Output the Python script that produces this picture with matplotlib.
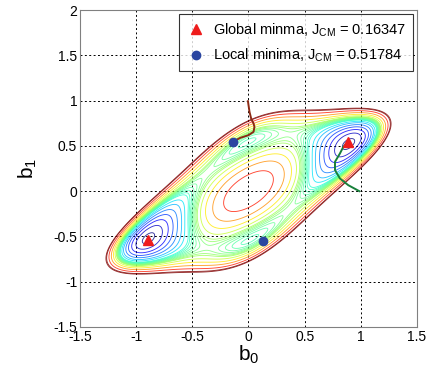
import numpy as np
import matplotlib
matplotlib.use("Agg")
import matplotlib.pyplot as plt
from matplotlib.colors import Normalize

plt.rcParams['font.family'] = ['Liberation Sans', 'DejaVu Sans']

# channel / noise used for the CM cost surface
ar_coef = 0.6
noise_var = 0.0387

# marked minima
global_b0 = [0.885, -0.895]
global_b1 = [0.545, -0.54]
local_b0 = [-0.14, 0.125]
local_b1 = [0.548, -0.545]
global_label = r"Global minma, J$_{\mathregular{CM}}$ = 0.16347"
local_label = r"Local minima, J$_{\mathregular{CM}}$ = 0.51784"

# adaptation trajectories
traj_local_b0 = [-0.005, 0.009, 0.024, 0.045, 0.053, 0.045, 0.0, -0.074, -0.142]
traj_local_b1 = [0.993, 0.875, 0.80, 0.747, 0.71, 0.655, 0.618, 0.588, 0.544]
traj_global_b0 = [0.986, 0.888, 0.814, 0.77, 0.77, 0.814, 0.844, 0.883]
traj_global_b1 = [0.0, 0.066, 0.14, 0.232, 0.324, 0.416, 0.489, 0.544]

ticks = [-1.5, -1, -0.5, 0, 0.5, 1, 1.5]
yticks = [-1.5, -1, -0.5, 0, 0.5, 1, 1.5, 2]
# contour levels: coarse in the wells, fine on the plateau
levels = [0.175, 0.22, 0.27, 0.32, 0.37, 0.42, 0.46,
          0.50, 0.515, 0.53, 0.545, 0.56, 0.575, 0.59, 0.605, 0.62,
          0.66, 0.72, 0.80, 0.90, 1.005, 1.04]

# CM cost over the equalizer plane
b0, b1 = np.meshgrid(np.linspace(-1.5, 1.5, 601), np.linspace(-1.5, 2, 701))
d = b1 - ar_coef * b0
P = b0**2 + d**2 / (1 - ar_coef**2)
Q = b0**4 + d**4 / (1 - ar_coef**4)
E = P + noise_var * (b0**2 + b1**2)
J = 3 * E**2 - 2 * Q - 2 * E + 1

fig = plt.figure(figsize=(4.27, 3.74), dpi=100)
ax = fig.add_axes([80 / 427, 1 - 327 / 374, 337 / 427, 317 / 374])

ax.contour(b0, b1, J, levels=levels, cmap='jet', norm=Normalize(0.17, 1.0),
           linewidths=0.65, alpha=0.8)
ax.plot(traj_local_b0, traj_local_b1, color='#8c2a14', lw=1.4)
ax.plot(traj_global_b0, traj_global_b1, color='#17803a', lw=1.4)
ax.plot(global_b0, global_b1, '^', color='#ee1c1c', ms=7, ls='none', label=global_label)
ax.plot(local_b0, local_b1, 'o', color='#2a45a0', ms=6, ls='none', label=local_label)

ax.set_xlim(-1.5, 1.5)
ax.set_ylim(-1.5, 2)
ax.set_xticks(ticks)
ax.set_yticks(yticks)
ax.set_xticklabels(['-1.5', '-1', '-0.5', '0', '0.5', '1', '1.5'])
ax.set_yticklabels(['-1.5', '-1', '-0.5', '0', '0.5', '1', '1.5', '2'])
ax.tick_params(length=0, labelsize=10, pad=2)
ax.grid(True, color='black', linestyle=(0, (2, 2.5)), linewidth=0.7)
for s in ax.spines.values():
    s.set_color('#808080')

ax.set_xlabel(r"b$_{\mathregular{0}}$", fontsize=15, labelpad=0)
ax.set_ylabel(r"b$_{\mathregular{1}}$", fontsize=15, labelpad=10)

leg = ax.legend(loc='upper right', fontsize=10.5, frameon=True, fancybox=False,
                edgecolor='black', borderaxespad=0.3, handletextpad=0.5,
                handlelength=1.4, borderpad=0.45, labelspacing=0.55)
leg.get_frame().set_linewidth(0.8)

fig.savefig('out.png', dpi=100)
